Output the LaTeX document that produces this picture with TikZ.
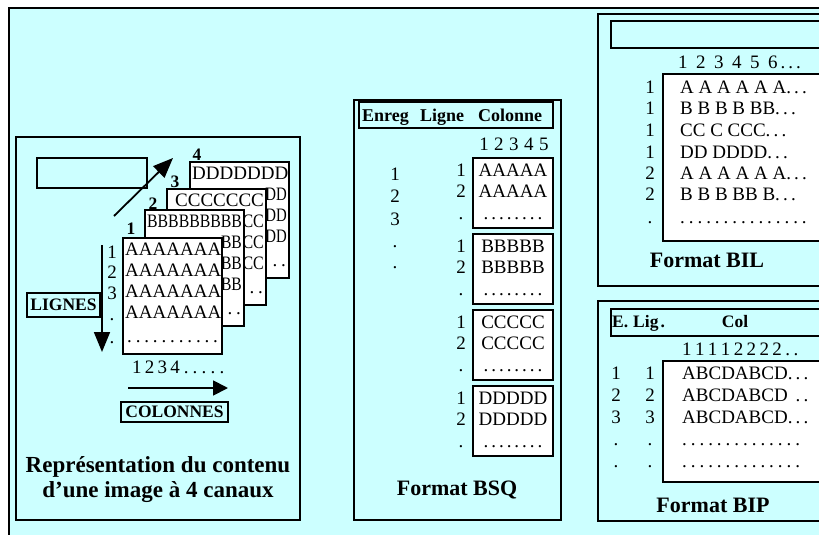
\documentclass[tikz,border=0pt]{standalone}
\usepackage{graphicx}
\usepackage{fontspec}
\setmainfont{Liberation Serif}
\usetikzlibrary{arrows.meta}
\definecolor{bgcyan}{RGB}{204,255,255}
\newcommand\dotrow[2]{.\foreach\k in {2,...,#1}{\kern#2.}}
% x, y, first row, indent, name, fragment
\newcommand\drawsheet[6]{%
  \begin{scope}
    \clip (#1,#2) rectangle ++(99,116);
    \fill[white] (#1,#2) rectangle ++(99,116);
    \node[txt,anchor=base west] (#5r1) at (#1+#4,#2+17) {#3};
    \foreach \r [count=\n from 2] in {38,59,80}
      \node[txt,anchor=base east] (#5r\n) at (#1+97,#2+\r) {#6};
    \node[txt,anchor=base east] (#5d) at (#1+96,#2+104) {.\kern3.8pt.};
  \end{scope}
  \draw[panel] (#1,#2) rectangle ++(99,116);
}
\begin{document}
\begin{tikzpicture}[x=1pt,y=-1pt,
  panel/.style={draw=black,line width=1.4pt},
  boxline/.style={draw=black,line width=1.8pt},
  txt/.style={inner sep=0pt,font=\fontsize{19}{22}\selectfont},
  num/.style={txt,anchor=base},
  lbl/.style={inner sep=0pt,font=\bfseries\fontsize{17.5}{20}\selectfont},
  lblbox/.style={lbl,draw=black,line width=1.5pt,fill=bgcyan},
  title/.style={inner sep=0pt,font=\bfseries\fontsize{22}{26}\selectfont,anchor=base},
  arr/.style={line width=1.8pt,-{Triangle[length=20pt,width=16pt]}}
]
\useasboundingbox (0,0) rectangle (819,535);
\clip (0,0) rectangle (819,535);
\fill[white] (0,0) rectangle (819,535);
\draw[panel,fill=bgcyan] (9,8) rectangle (850,560);

% ---------- left panel ----------
\draw[panel] (16,137) rectangle (300,520);
\draw[panel] (37,158) rectangle (147,188);
\drawsheet{190}{162}{DDDDDDD}{2}{sd}{\scalebox{0.78}[1]{DD}}
\drawsheet{167}{189}{CCCCCCC}{8}{sc}{\scalebox{0.84}[1]{CC}}
\drawsheet{145}{210}{\scalebox{0.83}[1]{BBBBBBBBB}}{2}{sb}{\scalebox{0.82}[1]{BB}}
\begin{scope}
  \fill[white] (123,238) rectangle ++(99,116);
  \foreach \r [count=\n] in {17,38,59,80}
    \node[txt,anchor=base west] (sar\n) at (125,238+\r) {AAAAAAA};
  \node[txt,anchor=base west] (sad) at (127,342) {\dotrow{11}{3.85pt}};
\end{scope}
\draw[panel] (123,238) rectangle ++(99,116);
\node[lbl] (n4) at (197,155) {4};
\node[lbl] (n3) at (175,182) {3};
\node[lbl] (n2) at (153,204) {2};
\node[lbl] (n1) at (131,229) {1};
\coordinate (da) at (114,216);
\coordinate (db) at (173,158);
\draw[arr] (da) -- (db);
\foreach \t/\y [count=\i] in {1/258,2/278,3/299,./320,./343}
  \node[num] (rl\i) at (112,\y) {\t};
\coordinate (la) at (102,245);
\coordinate (lb) at (102,352);
\draw[arr] (la) -- (lb);
\node[lblbox,minimum width=73pt,minimum height=24pt] (lignes) at (63.5,305) {LIGNES};
\node[txt,anchor=base west] (cols) at (132,373) {1\kern3.2pt2\kern3.2pt3\kern3.2pt4\kern4pt\dotrow{5}{4.2pt}};
\coordinate (ca) at (128,388);
\coordinate (cb) at (228,388);
\draw[line width=1.8pt,-{Triangle[length=15pt,width=15pt]}] (ca) -- (cb);
\node[lblbox,minimum width=107pt,minimum height=20pt] (colonnes) at (174.5,412) {COLONNES};
\node[title,font=\bfseries\fontsize{23}{26}\selectfont] (t1) at (158,472) {Représentation du contenu};
\node[title,font=\bfseries\fontsize{23}{26}\selectfont] (t2) at (158,497) {d’une image à 4 canaux};

% ---------- BSQ ----------
\draw[panel] (354,100) rectangle (561,520);
\draw[boxline] (359,102) rectangle (553,128);
\node[lbl,anchor=base west,font=\bfseries\fontsize{18}{20}\selectfont] (h1) at (362,121) {Enreg};
\node[lbl,anchor=base west,font=\bfseries\fontsize{18}{20}\selectfont] (h2) at (420,121) {Ligne};
\node[lbl,anchor=base west,font=\bfseries\fontsize{18}{20}\selectfont] (h3) at (478,121) {Colonne};
\node[num] (bsqcols) at (514,150) {1\kern5.5pt2\kern5.5pt3\kern5.5pt4\kern5.5pt5};
\foreach \t/\y [count=\i] in {1/180,2/202,3/225,./247,./268}
  \node[num] (bl\i) at (395,\y) {\t};
\foreach \L [count=\i from 0] in {A,B,C,D}{
  \pgfmathsetmacro\tp{158+76*\i}
  \draw[boxline,fill=white] (473,\tp) rectangle (553,\tp+70);
  \node[num] (bsq\L a) at (513,\tp+18) {\L\L\L\L\L};
  \node[num] (bsq\L b) at (513,\tp+39) {\L\L\L\L\L};
  \node[num] (bsq\L c) at (513,\tp+61) {\dotrow{8}{2.95pt}};
  \node[num] (bsq\L x) at (461,\tp+18) {1};
  \node[num] (bsq\L y) at (461,\tp+39) {2};
  \node[num] (bsq\L z) at (461,\tp+61) {.};
}
\node[title] (fbsq) at (457,495) {Format BSQ};

% ---------- BIL ----------
\draw[panel] (598,14) rectangle (850,286);
\draw[boxline] (611,21) rectangle (850,48);
\node[txt,anchor=base west] (bilcols) at (678,68) {1\kern8.5pt2\kern8.5pt3\kern8.5pt4\kern8.5pt5\kern8.5pt6\kern3pt.\kern3pt.\kern3pt.};
\draw[boxline,fill=white] (663,74) rectangle (850,241);
\foreach \t/\r/\y [count=\i] in {1/{A A A A A A.\,.\,.}/93,
                                  1/{B B B B BB.\,.\,.}/114,
                                  1/{CC C CCC.\,.\,.}/136,
                                  1/{DD DDDD.\,.\,.}/158,
                                  2/{A A A A A A.\,.\,.}/179,
                                  2/{B B B BB B.\,.\,.}/200,
                                  ./{\dotrow{15}{3.95pt}}/223}{
  \node[num] (bill\i) at (650,\y) {\t};
  \node[txt,anchor=base west] (bilr\i) at (680,\y) {\r};
}
\node[title] (fbil) at (707,267) {Format BIL};

% ---------- BIP ----------
\draw[panel] (598,301) rectangle (850,521);
\draw[boxline] (611,309) rectangle (850,336);
\node[lbl,anchor=base west] (e1) at (612,327) {E.\kern5pt Lig\kern2pt.};
\node[lbl,anchor=base] (e2) at (735,327) {Col};
\node[txt,anchor=base west] (bipcols) at (682,355) {1\kern3.4pt1\kern3.4pt1\kern3.4pt1\kern3.4pt2\kern3.4pt2\kern3.4pt2\kern3.4pt2\kern3.4pt.\kern3.4pt.};
\draw[boxline,fill=white] (663,361) rectangle (850,482);
\foreach \t/\r/\y [count=\i] in {1/{ABCDABCD.\,.\,.}/379,
                                  2/{ABCDABCD \,.\,.}/401,
                                  3/{ABCDABCD.\,.\,.}/423,
                                  ./{\dotrow{14}{3.95pt}}/445,
                                  ./{\dotrow{14}{3.95pt}}/467}{
  \node[num] (bipa\i) at (616,\y) {\t};
  \node[num] (bipb\i) at (650,\y) {\t};
  \node[txt,anchor=base west] (bipr\i) at (682,\y) {\r};
}
\node[title] (fbip) at (713,512) {Format BIP};
\end{tikzpicture}
\end{document}
